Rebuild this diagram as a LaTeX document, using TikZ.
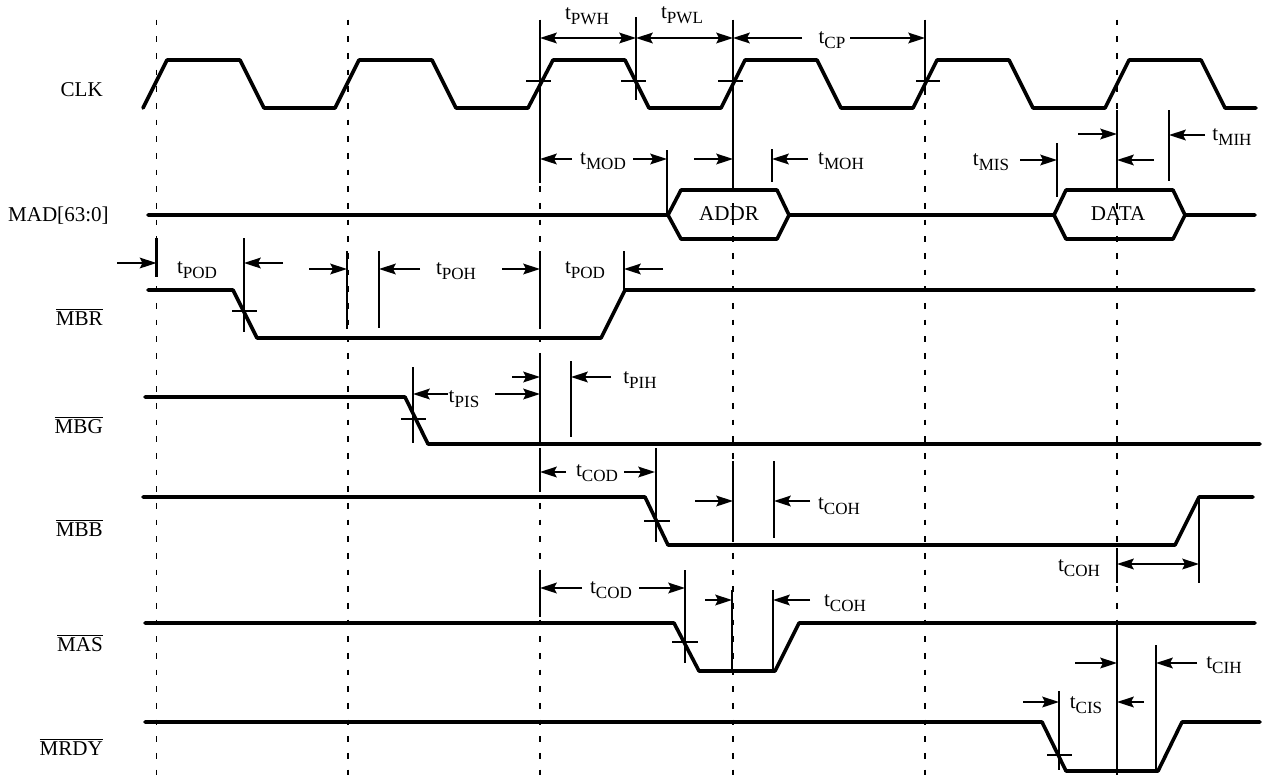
\documentclass[tikz,border=0pt]{standalone}
\usepackage{fontspec}
\setmainfont{Liberation Serif}
\usetikzlibrary{arrows.meta}
\newcommand{\tm}[1]{t\raisebox{-0.24em}{\fontsize{12.8}{14}\selectfont #1}}
\newcommand{\ovl}[1]{$\overline{\mbox{#1}}$}
\tikzset{
  x=0.75pt,y=-0.75pt,
  grid/.style={line width=1pt,dash pattern=on 4.3pt off 8.2pt},
  wave/.style={line width=2.7pt,line join=round,line cap=round},
  mark line/.style={line width=1.55pt},
  cross/.style={line width=1.2pt},
  meas/.style={line width=1.6pt,-{Stealth[length=12.5pt,width=8pt,inset=2pt]}},
  both/.style={line width=1.6pt,{Stealth[length=12.5pt,width=8pt,inset=2pt]}-{Stealth[length=12.5pt,width=8pt,inset=2pt]}},
  lab/.style={font=\fontsize{15.8}{18}\selectfont,inner sep=0pt,anchor=center},
  sig/.style={font=\fontsize{15.8}{18}\selectfont,inner sep=0pt,anchor=base east},
}
\begin{document}
\begin{tikzpicture}
\useasboundingbox (0,0) rectangle (1263,776);
% clock reference grid
\foreach \gx in {156.5,348,540,733,925,1117}
  \draw[grid] (\gx,19.6) -- (\gx,776);
% waveforms
\draw[wave] (143,108)--(167,60)--(240,60)--(264,108)--(335,108)--(359,60)--(432,60)--(456,108)--(528,108)--(553,60)--(625,60)--(649,108)--(721,108)--(745,60)--(817,60)--(841,108)--(913,108)--(937,60)--(1009,60)--(1033,108)--(1105,108)--(1129,60)--(1201,60)--(1225,108)--(1256,108);
\draw[wave] (148,215)--(668,215)--(681,190)--(777,190)--(789,215)--(1054,215)--(1066,190)--(1173,190)--(1185,215)--(1255,215);
\draw[wave] (668,215)--(681,239)--(777,239)--(789,215);
\draw[wave] (1054,215)--(1066,239)--(1173,239)--(1185,215);
\draw[wave] (148,290)--(233,290)--(257,338)--(601,338)--(625,290)--(1254,290);
\draw[wave] (145,397)--(405,397)--(428,444)--(1260,444);
\draw[wave] (143,497)--(645,497)--(668,545)--(1175,545)--(1199,497)--(1253,497);
\draw[wave] (145,623)--(674,623)--(699,671)--(775,671)--(799,623)--(1255,623);
\draw[wave] (145,722)--(1042,722)--(1066,771)--(1158,771)--(1182,722)--(1260,722);
% threshold crossings
\foreach \cxa/\cxb/\cy in {526/551/81,621/646/81,718/743/81,916/940/81,232/257/311,401/426/419,644/670/521,672/698/642,1047/1072/755}
  \draw[cross] (\cxa,\cy) -- (\cxb,\cy);
% measuring lines
\foreach \mx/\mya/\myb in {540/20/183,636/17/100,733/20/188,925/20/95,667/150/215,772/149/182,1057/143/197,1117/110/187,1169/110/181,
  156.5/238/277,244/238/332,347/251/329,379/251/328,540/251/329,624/251/290,
  413/367/443,540/357/437,571/361/437,
  656/448/542,540/448/490,733/461/538,774/461/538,1117/548/583,1199/497/583,
  685/570/663,540/570/617,732/590/670,773/590/670,
  1059/691/770,1117/625/770,1156/645/770}
  \draw[mark line] (\mx,\mya) -- (\mx,\myb);
% arrows
\foreach \axa/\axb/\ay in {802/733/38,850/925/38,572/540/159,633/667/159,694/733/159,808/772/159,
  1020/1057/160,1078/1117/134,1154/1117/160,1205/1169/135,
  117/156.5/263,283/244/263,309/347/269,420/379/269,502/540/269,663/624/269,
  448/413/394,495/540/394,512/540/377,611/571/377,
  566/540/472,624/655/472,695/733/501,810/774/501,
  582/540/588,639/685/588,705/732/600,810/773/600,
  1075/1117/663,1197/1156/663,1023/1059/702,1144/1117/702}
  \draw[meas] (\axa,\ay) -- (\axb,\ay);
\draw[both] (540,38) -- (636,38);
\draw[both] (636,38) -- (733,38);
\draw[both] (1117,564) -- (1199,564);
% signal names
\node[sig] (sclk) at (103,96) {CLK};
\node[sig] (smad) at (109,221) {MAD[63:0]};
\node[sig] (smbr) at (103,325) {\ovl{MBR}};
\node[sig] (smbg) at (103,433) {\ovl{MBG}};
\node[sig] (smbb) at (103,536) {\ovl{MBB}};
\node[sig] (smas) at (103,651) {\ovl{MAS}};
\node[sig] (smrdy) at (103,755) {\ovl{MRDY}};
\node[lab] (addr) at (729,214) {ADDR};
\node[lab] (data) at (1118,214) {DATA};
% timing labels
\node[lab] (pwh) at (587,16) {\tm{PWH}};
\node[lab] (pwl) at (682,15) {\tm{PWL}};
\node[lab] (cp) at (832,40) {\tm{CP}};
\node[lab] (mod) at (603,161) {\tm{MOD}};
\node[lab] (moh) at (841,161) {\tm{MOH}};
\node[lab] (mis) at (991,162) {\tm{MIS}};
\node[lab] (mih) at (1232,137) {\tm{MIH}};
\node[lab] (pod1) at (197,270) {\tm{POD}};
\node[lab] (poh) at (456,271) {\tm{POH}};
\node[lab] (pod2) at (585,270) {\tm{POD}};
\node[lab] (pis) at (464,399) {\tm{PIS}};
\node[lab] (pih) at (640,380) {\tm{PIH}};
\node[lab] (cod1) at (597,473) {\tm{COD}};
\node[lab] (coh1) at (839,506) {\tm{COH}};
\node[lab] (coh2) at (1079,568) {\tm{COH}};
\node[lab] (cod2) at (611,590) {\tm{COD}};
\node[lab] (coh3) at (845,603) {\tm{COH}};
\node[lab] (cih) at (1224,665) {\tm{CIH}};
\node[lab] (cis) at (1086,705) {\tm{CIS}};
\end{tikzpicture}
\end{document}
